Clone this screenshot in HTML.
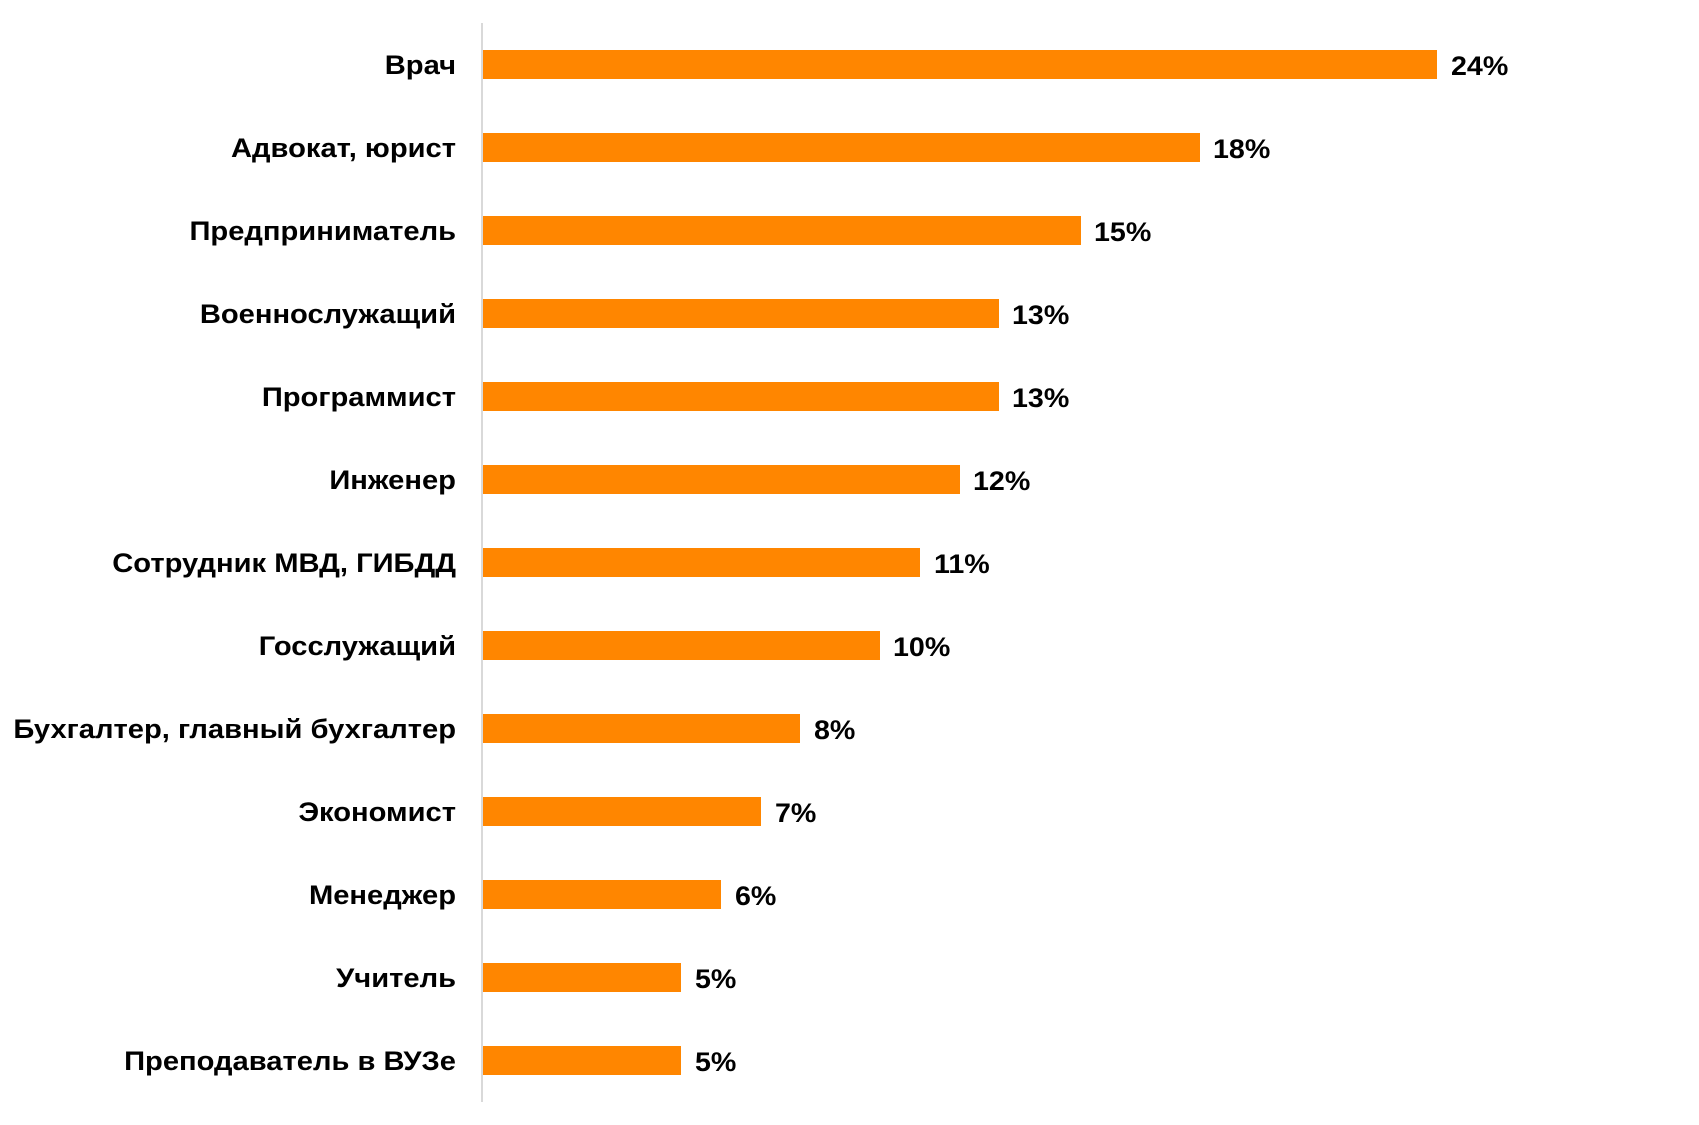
<!DOCTYPE html>
<html><head><meta charset="utf-8"><style>
html,body{margin:0;padding:0;background:#fff;}
svg{display:block;}
text{font-family:"Liberation Sans",Arial,sans-serif;font-weight:bold;font-size:26.5px;fill:#000;}
</style></head><body>
<svg width="1699" height="1125" viewBox="0 0 1699 1125">
<line x1="482" y1="23" x2="482" y2="1102" stroke="#d9d9d9" stroke-width="2"/>
<g fill="#ff8600">
<rect x="483" y="50" width="954" height="29"/>
<rect x="483" y="133" width="717" height="29"/>
<rect x="483" y="216" width="598" height="29"/>
<rect x="483" y="299" width="516" height="29"/>
<rect x="483" y="382" width="516" height="29"/>
<rect x="483" y="465" width="477" height="29"/>
<rect x="483" y="548" width="437" height="29"/>
<rect x="483" y="631" width="397" height="29"/>
<rect x="483" y="714" width="317" height="29"/>
<rect x="483" y="797" width="278" height="29"/>
<rect x="483" y="880" width="238" height="29"/>
<rect x="483" y="963" width="198" height="29"/>
<rect x="483" y="1046" width="198" height="29"/>
</g>
<g text-anchor="end">
<text transform="translate(456,74) scale(1.1,1)">Врач</text>
<text transform="translate(456,157) scale(1.1,1)">Адвокат, юрист</text>
<text transform="translate(456,240) scale(1.1,1)">Предприниматель</text>
<text transform="translate(456,323) scale(1.1,1)">Военнослужащий</text>
<text transform="translate(456,406) scale(1.1,1)">Программист</text>
<text transform="translate(456,489) scale(1.1,1)">Инженер</text>
<text transform="translate(456,572) scale(1.1,1)">Сотрудник МВД, ГИБДД</text>
<text transform="translate(456,655) scale(1.1,1)">Госслужащий</text>
<text transform="translate(456,738) scale(1.1,1)">Бухгалтер, главный бухгалтер</text>
<text transform="translate(456,821) scale(1.1,1)">Экономист</text>
<text transform="translate(456,904) scale(1.1,1)">Менеджер</text>
<text transform="translate(456,987) scale(1.1,1)">Учитель</text>
<text transform="translate(456,1070) scale(1.1,1)">Преподаватель в ВУЗе</text>
</g>
<g>
<text transform="translate(1451,75) scale(1.08,1)">24%</text>
<text transform="translate(1213,158) scale(1.08,1)">18%</text>
<text transform="translate(1094,241) scale(1.08,1)">15%</text>
<text transform="translate(1012,324) scale(1.08,1)">13%</text>
<text transform="translate(1012,407) scale(1.08,1)">13%</text>
<text transform="translate(973,490) scale(1.08,1)">12%</text>
<text transform="translate(934,573) scale(1.08,1)">11%</text>
<text transform="translate(893,656) scale(1.08,1)">10%</text>
<text transform="translate(814,739) scale(1.08,1)">8%</text>
<text transform="translate(775,822) scale(1.08,1)">7%</text>
<text transform="translate(735,905) scale(1.08,1)">6%</text>
<text transform="translate(695,988) scale(1.08,1)">5%</text>
<text transform="translate(695,1071) scale(1.08,1)">5%</text>
</g>
</svg>
</body></html>
